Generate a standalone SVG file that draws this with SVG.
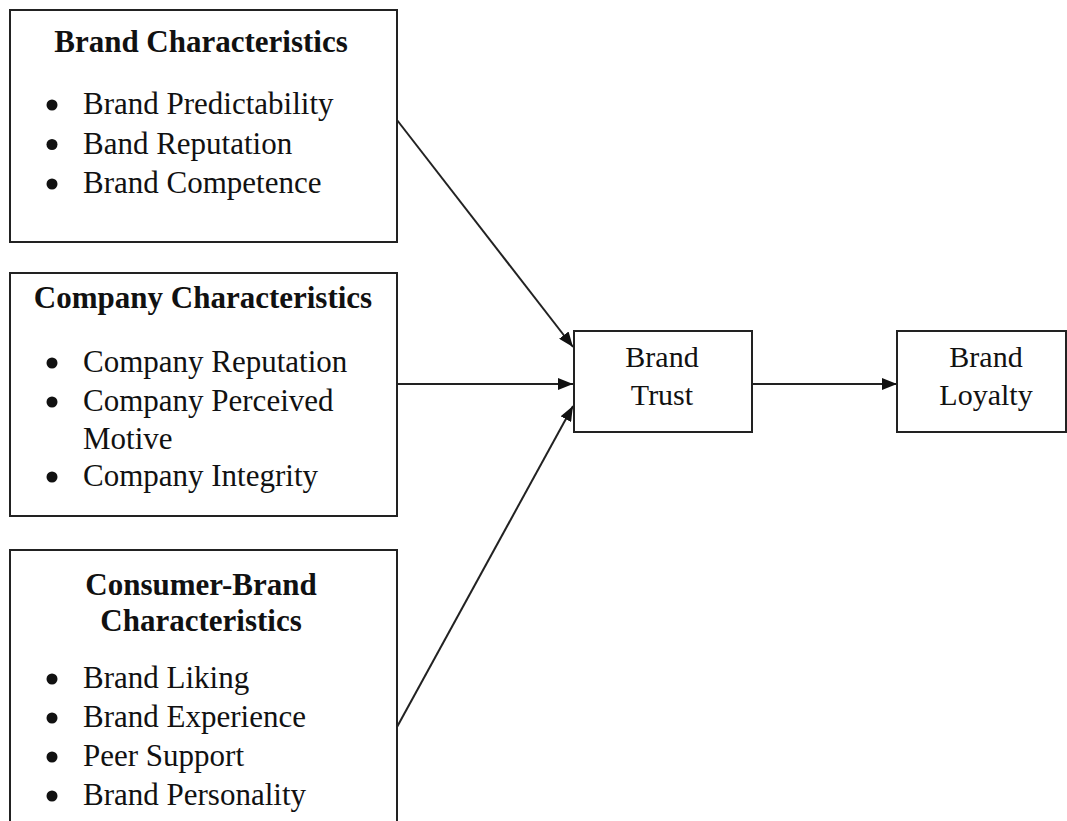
<svg xmlns="http://www.w3.org/2000/svg" width="1067" height="821" viewBox="0 0 1067 821">
<defs>
<style>
.box{fill:#fff;stroke:#222;stroke-width:2}
.t{font-family:"Liberation Serif","Times New Roman",serif;font-size:31px;fill:#111}
.b{font-weight:bold;text-anchor:middle}
.c{text-anchor:middle;font-size:30px}
.dot{fill:#111}
.edge{stroke:#222;stroke-width:2;fill:none;marker-end:url(#arr)}
</style>
<marker id="arr" markerUnits="userSpaceOnUse" markerWidth="16" markerHeight="12" refX="15" refY="6" orient="auto">
<path d="M0,0 L15,6 L0,12 z" fill="#111"/>
</marker>
</defs>
<rect width="1067" height="821" fill="#fff"/>
<g id="connectors">
<line class="edge" x1="397" y1="120" x2="573" y2="347"/>
<line class="edge" x1="397" y1="384" x2="573" y2="384"/>
<line class="edge" x1="397" y1="727" x2="573" y2="406"/>
<line class="edge" x1="752" y1="384" x2="897" y2="384"/>
</g>
<g id="brand-characteristics">
<rect class="box" x="10" y="10" width="387" height="232"/>
<text class="t b" x="201" y="52">Brand Characteristics</text>
<circle class="dot" cx="52" cy="105" r="5.5"/>
<text class="t" x="83" y="114">Brand Predictability</text>
<circle class="dot" cx="52" cy="144.5" r="5.5"/>
<text class="t" x="83" y="153.5">Band Reputation</text>
<circle class="dot" cx="52" cy="184" r="5.5"/>
<text class="t" x="83" y="193">Brand Competence</text>
</g>
<g id="company-characteristics">
<rect class="box" x="10" y="273" width="387" height="243"/>
<text class="t b" x="203" y="308">Company Characteristics</text>
<circle class="dot" cx="52" cy="363" r="5.5"/>
<text class="t" x="83" y="372">Company Reputation</text>
<circle class="dot" cx="52" cy="402" r="5.5"/>
<text class="t" x="83" y="411">Company Perceived</text>
<text class="t" x="83" y="449">Motive</text>
<circle class="dot" cx="52" cy="477" r="5.5"/>
<text class="t" x="83" y="486">Company Integrity</text>
</g>
<g id="consumer-brand-characteristics">
<rect class="box" x="10" y="550" width="387" height="290"/>
<text class="t b" x="201" y="595">Consumer-Brand</text>
<text class="t b" x="201" y="631">Characteristics</text>
<circle class="dot" cx="52" cy="679" r="5.5"/>
<text class="t" x="83" y="688">Brand Liking</text>
<circle class="dot" cx="52" cy="718" r="5.5"/>
<text class="t" x="83" y="727">Brand Experience</text>
<circle class="dot" cx="52" cy="757" r="5.5"/>
<text class="t" x="83" y="766">Peer Support</text>
<circle class="dot" cx="52" cy="796" r="5.5"/>
<text class="t" x="83" y="805">Brand Personality</text>
</g>
<g id="brand-trust">
<rect class="box" x="574" y="331" width="178" height="101"/>
<text class="t c" x="662" y="367">Brand</text>
<text class="t c" x="662" y="405">Trust</text>
</g>
<g id="brand-loyalty">
<rect class="box" x="897" y="331" width="169" height="101"/>
<text class="t c" x="986" y="367">Brand</text>
<text class="t c" x="986" y="405">Loyalty</text>
</g>
</svg>
